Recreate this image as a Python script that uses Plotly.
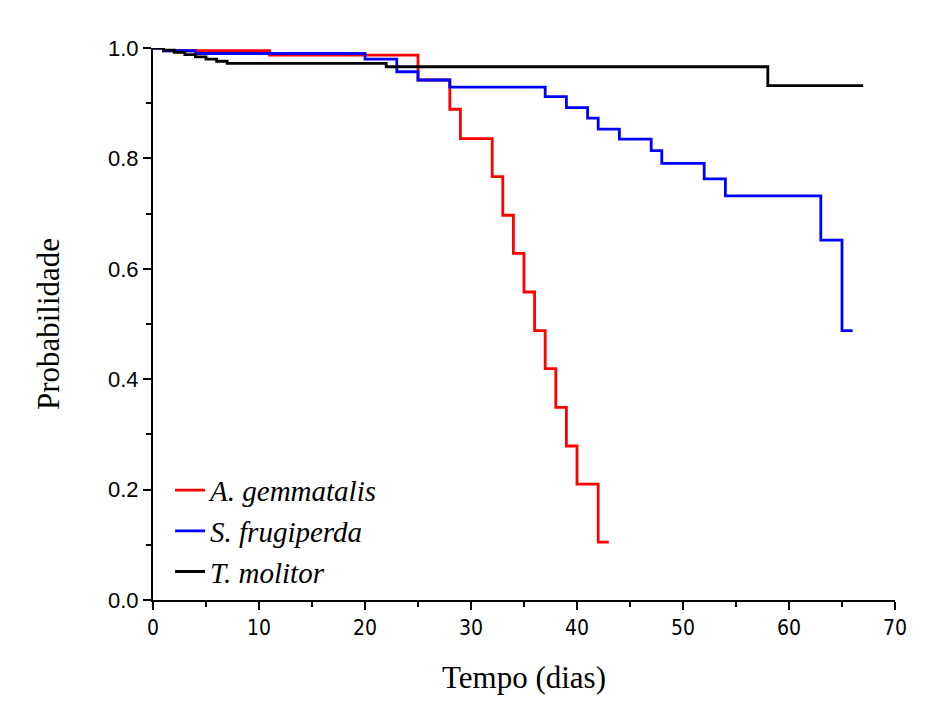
import plotly.graph_objects as go

# Kaplan-Meier style survival curves
dias_gem = [0, 1, 11, 25, 28, 29, 32, 33, 34, 35, 36, 37, 38, 39, 40, 42, 43]
prob_gem = [1.0, 0.995, 0.987, 0.942, 0.889, 0.836, 0.767, 0.697, 0.628, 0.558,
            0.488, 0.419, 0.349, 0.279, 0.210, 0.105, 0.105]

dias_fru = [0, 1, 4, 20, 23, 25, 28, 37, 39, 41, 42, 44, 47, 48, 52, 54, 63, 65, 66]
prob_fru = [1.0, 0.995, 0.990, 0.980, 0.957, 0.942, 0.929, 0.912, 0.892, 0.873,
            0.853, 0.835, 0.814, 0.791, 0.763, 0.732, 0.652, 0.488, 0.488]

dias_mol = [0, 1, 2, 3, 4, 5, 6, 7, 22, 58, 67]
prob_mol = [1.0, 0.996, 0.992, 0.988, 0.984, 0.980, 0.976, 0.972, 0.966, 0.932, 0.932]

nomes = ["A. gemmatalis", "S. frugiperda", "T. molitor"]
cores = ["#ff0000", "#0000ff", "#000000"]

x_ticks = [0, 10, 20, 30, 40, 50, 60, 70]
y_ticks = [0.0, 0.2, 0.4, 0.6, 0.8, 1.0]

fig = go.Figure()
for x, y, nome, cor in zip([dias_gem, dias_fru, dias_mol],
                           [prob_gem, prob_fru, prob_mol], nomes, cores):
    fig.add_trace(go.Scatter(x=x, y=y, mode="lines", name=nome,
                             line=dict(color=cor, width=2.8, shape="hv"),
                             cliponaxis=False))

eixo = dict(showline=True, linecolor="black", linewidth=2, ticks="outside",
            ticklen=8, tickwidth=1.5, tickcolor="black", showgrid=False,
            zeroline=False, mirror=False)

fig.update_xaxes(**eixo, range=[0, 70], tickvals=x_ticks,
                 minor=dict(dtick=5, ticks="outside", ticklen=5, tickcolor="black", tickwidth=1.5),
                 tickfont=dict(family="DejaVu Sans Condensed, Liberation Sans Narrow, Liberation Sans",
                               size=21, color="black"),
                 title=dict(text="Tempo (dias)", standoff=27,
                            font=dict(family="Liberation Serif", size=31, color="black")))
fig.update_yaxes(**eixo, range=[0, 1.0], tickvals=y_ticks, tickformat=".1f",
                 minor=dict(dtick=0.1, ticks="outside", ticklen=5, tickcolor="black", tickwidth=1.5),
                 tickfont=dict(family="Liberation Sans", size=22, color="black"),
                 title=dict(text="Probabilidade", standoff=39,
                            font=dict(family="Liberation Serif", size=31, color="black")))

fig.update_layout(
    width=944, height=694,
    margin=dict(l=145, r=57, t=40, b=102),
    paper_bgcolor="white", plot_bgcolor="white",
    legend=dict(x=0.023, y=0.245, xanchor="left", yanchor="top",
                bgcolor="rgba(0,0,0,0)", tracegroupgap=0,
                font=dict(family="Liberation Serif", size=29, color="black", style="italic")),
)

fig.write_html("out.html")
